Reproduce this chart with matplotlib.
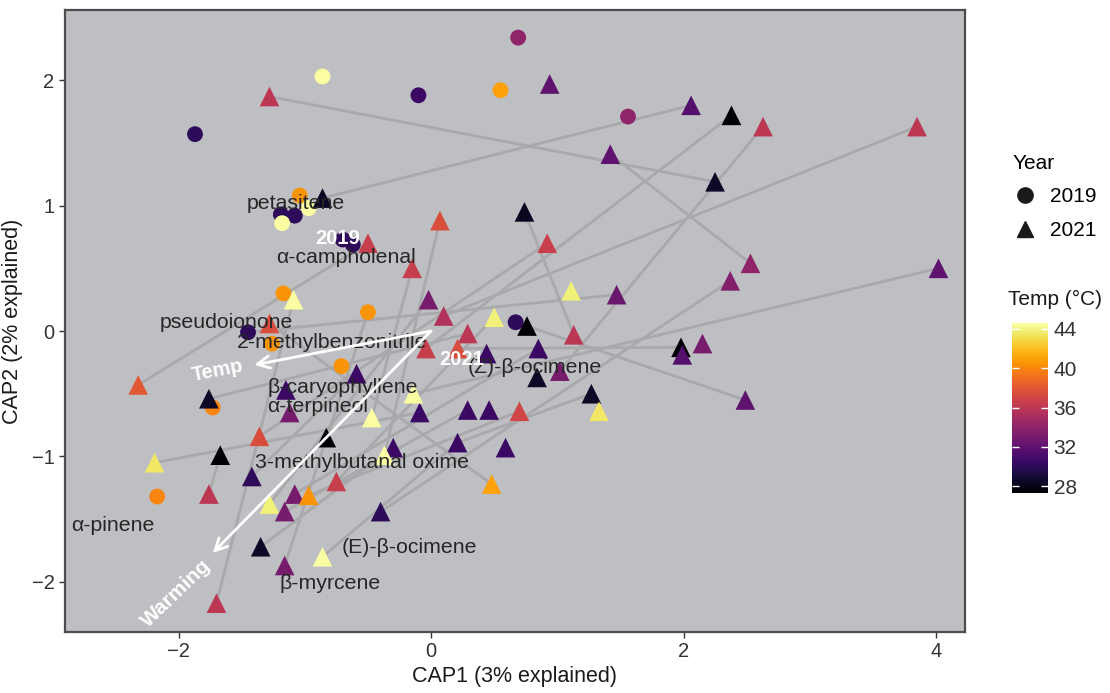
import numpy as np
import matplotlib
matplotlib.use("Agg")
import matplotlib.pyplot as plt
from matplotlib.lines import Line2D

plt.rcParams['font.family'] = ['Liberation Sans', 'DejaVu Sans']

# CAP scores per sample (2019 circles first, then 2021 triangles)
cap1 = [0.69, -0.86, 0.55, -0.10, -1.87, 1.56, -1.04, -0.97, -1.19, -1.08,
        -1.18, -0.70, -0.62, -1.17, -0.50, -1.45, -1.26, -0.71, -1.73, -2.17,
        0.67,
        -1.28, 0.94, 2.06, 2.38, 2.63, 3.85, 2.25, 1.42, -0.86, 0.74,
        0.07, -0.50, 0.92, -0.15, 2.53, 2.37, 4.02, 1.11, 1.47, -0.02,
        0.10, 0.50, 0.76, 0.29, 1.13, -0.04, 0.21, 0.44, 0.85, 0.84,
        1.02, 1.27, 1.33, 0.70, 0.46, 0.29, -0.09, 1.98, 1.99, 2.15,
        2.49, -2.32, -1.28, -1.09, -1.76, -1.15, -1.12, -0.59, -0.14, -0.47,
        -1.36, -0.83, -0.30, -0.37, -1.67, -1.42, -0.75, -1.76, -1.08, -0.97,
        -1.28, -1.16, -0.40, 0.21, 0.59, 0.48, -2.19, -1.35, -1.16, -0.86,
        -1.70]
cap2 = [2.34, 2.03, 1.92, 1.88, 1.57, 1.71, 1.08, 0.98, 0.93, 0.92,
        0.86, 0.73, 0.69, 0.30, 0.15, -0.01, -0.10, -0.28, -0.61, -1.32,
        0.07,
        1.87, 1.97, 1.80, 1.72, 1.63, 1.63, 1.19, 1.41, 1.06, 0.95,
        0.88, 0.70, 0.70, 0.50, 0.54, 0.40, 0.50, 0.32, 0.29, 0.25,
        0.12, 0.11, 0.04, -0.02, -0.03, -0.14, -0.14, -0.18, -0.14, -0.37,
        -0.32, -0.50, -0.64, -0.64, -0.63, -0.63, -0.65, -0.13, -0.19, -0.10,
        -0.55, -0.43, 0.06, 0.25, -0.54, -0.47, -0.65, -0.34, -0.50, -0.69,
        -0.84, -0.85, -0.93, -0.99, -0.99, -1.16, -1.20, -1.30, -1.30, -1.31,
        -1.38, -1.44, -1.44, -0.89, -0.93, -1.22, -1.05, -1.72, -1.87, -1.80,
        -2.17]
temp = [34, 44.5, 41, 30.5, 30, 34, 40.5, 44.5, 30, 30,
        44.5, 30, 30, 40.5, 40.5, 30, 40.5, 40.5, 40, 40,
        30,
        36, 32, 31.5, 27.3, 36, 36, 28.5, 32, 28.5, 28.3,
        37.5, 36.5, 36.5, 36.5, 34, 33.5, 32, 43.8, 32.5, 33,
        35.5, 43.8, 27.3, 36, 36, 36.5, 37.5, 30.5, 30.5, 28.5,
        33, 28.5, 43.5, 37, 30.5, 30.5, 30.5, 27.3, 31.5, 33,
        32, 38, 37.5, 44.5, 28.5, 30.5, 33, 30.5, 44.5, 44.5,
        37.5, 27.3, 30.5, 44.5, 27.3, 30, 36.5, 36, 33, 40.5,
        43.8, 33, 30, 30.5, 30.5, 41, 43.5, 28.5, 33, 44.5,
        36]
year = [2019] * 21 + [2021] * 71

# repeated-sample connections (index pairs)
seg_from = [21, 29, 28, 24, 25, 26, 36, 37, 20, 31, 34, 62, 65, 87, 75, 91,
            88, 89, 90, 86, 84, 47, 30, 76, 82, 81, 79, 71, 77, 80, 15]
seg_to = [27, 23, 35, 46, 51, 41, 83, 69, 61, 74, 70, 32, 44, 57, 78, 64,
          73, 14, 84, 63, 52, 58, 45, 68, 56, 40, 49, 33, 42, 54, 39]

# compound labels
cmp_names = ["petasitene", "α-campholenal", "pseudoionone", "2-methylbenzonitrile",
             "β-caryophyllene", "α-terpineol", "3-methylbutanal oxime", "α-pinene",
             "(E)-β-ocimene", "β-myrcene", "(Z)-β-ocimene"]
cmp_x = [-1.07, -0.67, -1.62, -0.78, -0.70, -0.90, -0.55, -2.52, -0.17, -0.80, 0.82]
cmp_y = [1.02, 0.59, 0.07, -0.09, -0.45, -0.60, -1.05, -1.55, -1.73, -2.01, -0.29]

# year centroids
yr_names = ["2019", "2021"]
yr_x = [-0.74, 0.24]
yr_y = [0.74, -0.23]

# environmental vectors
vec_names = ["Temp", "Warming"]
vec_x = [-1.40, -1.73]
vec_y = [-0.27, -1.77]

cap1 = np.array(cap1)
cap2 = np.array(cap2)
temp = np.array(temp)
year = np.array(year)

fig = plt.figure(figsize=(11.1, 6.93), dpi=100)
ax = fig.add_axes([65 / 1110, 1 - 632 / 693, 900 / 1110, 622 / 693])
ax.set_facecolor('#bebfc3')

for a, b in zip(seg_from, seg_to):
    ax.plot([cap1[a], cap1[b]], [cap2[a], cap2[b]], color='#a9a9ac', lw=2.0,
            zorder=1, solid_capstyle='butt')

vmin, vmax = 27.3, 44.6
m19 = year == 2019
m21 = year == 2021
sc = ax.scatter(cap1[m19], cap2[m19], c=temp[m19], cmap='inferno', vmin=vmin, vmax=vmax,
                marker='o', s=130, linewidths=0, zorder=3)
ax.scatter(cap1[m21], cap2[m21], c=temp[m21], cmap='inferno', vmin=vmin, vmax=vmax,
           marker='^', s=200, linewidths=0, zorder=3)

for name, x, y in zip(cmp_names, cmp_x, cmp_y):
    ax.text(x, y, name, fontsize=15.3, color='#262626', ha='center', va='center', zorder=4)

for name, x, y in zip(yr_names, yr_x, yr_y):
    ax.text(x, y, name, fontsize=14.5, color='white', fontweight='bold',
            ha='center', va='center', zorder=5)

for x, y in zip(vec_x, vec_y):
    ax.annotate("", xy=(x, y), xytext=(0, 0),
                arrowprops=dict(arrowstyle='->', color='white', lw=2.0,
                                mutation_scale=22, shrinkA=0, shrinkB=0), zorder=5)
ax.text(-1.69, -0.32, "Temp", fontsize=14.5, color='white', fontweight='bold',
        rotation=11, ha='center', va='center', zorder=5)
ax.text(-2.02, -2.09, "Warming", fontsize=15, color='white', fontweight='bold',
        rotation=44, ha='center', va='center', zorder=5)

ax.set_xlim(-2.90, 4.23)
ax.set_ylim(-2.40, 2.56)
ax.set_xticks([-2, 0, 2, 4])
ax.set_yticks([-2, -1, 0, 1, 2])
ax.tick_params(labelsize=14.5, colors='#333333', length=4, width=1)
for s in ax.spines.values():
    s.set_color('#4d4d4d')
    s.set_linewidth(1.6)
ax.set_xlabel("CAP1 (3% explained)", fontsize=15.5, color='#1a1a1a', labelpad=3)
ax.set_ylabel("CAP2 (2% explained)", fontsize=15.5, color='#1a1a1a', labelpad=6)

# shape legend
handles = [Line2D([], [], marker='o', ls='', color='#1a1a1a', markersize=11),
           Line2D([], [], marker='^', ls='', color='#1a1a1a', markersize=12)]
leg = fig.legend(handles, ["2019", "2021"], title="Year", loc='upper left',
                 bbox_to_anchor=(994 / 1110, 1 - 135 / 693), frameon=False,
                 fontsize=15, title_fontsize=15, handletextpad=0.6, labelspacing=0.7,
                 handlelength=1.2)
leg._legend_box.align = 'left'

# colour bar
cax = fig.add_axes([1012 / 1110, 1 - 493 / 693, 36 / 1110, 170 / 693])
cb = fig.colorbar(sc, cax=cax)
cb.outline.set_visible(False)
cb.set_ticks([28, 32, 36, 40, 44])
cax.tick_params(which='major', direction='in', color='white', length=5, width=1,
                left=True, right=True, labelleft=False, labelright=True,
                labelsize=15, labelcolor='#333333', pad=4)
fig.text(1008 / 1110, 1 - 299 / 693, "Temp (°C)", fontsize=15, color='#1a1a1a',
         ha='left', va='center')

fig.savefig("out.png", dpi=100)
